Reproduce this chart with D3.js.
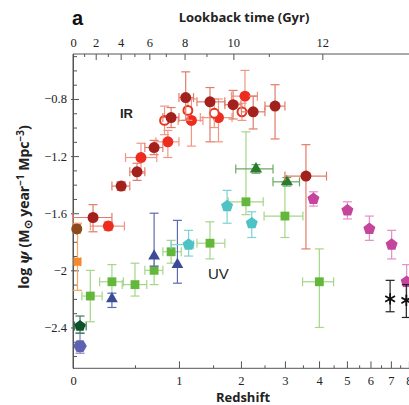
<!DOCTYPE html>
<html lang="en">
<head>
<meta charset="UTF-8">
<title>Cosmic star formation history</title>
<script src="https://cdn.jsdelivr.net/npm/d3@7/dist/d3.min.js"></script>
<style>
    body { margin: 0; background: #fff; }
    svg { display: block; }
</style>
</head>
<body>
<div id="chart"></div>
<script>
// each row: [z, log psi, z low, z high, log psi low, log psi high]
var irDark = [
    [0.14, -1.63, 0.00, 0.29, -1.73, -1.54],
    [0.37, -1.41, 0.29, 0.45, -1.44, -1.38],
    [0.52, -1.31, 0.45, 0.60, -1.37, -1.25],
    [0.70, -1.14, 0.60, 0.80, -1.19, -1.09],
    [0.90, -0.93, 0.80, 1.00, -1.00, -0.86],
    [1.09, -0.79, 1.00, 1.20, -0.95, -0.61],
    [1.45, -0.82, 1.25, 1.70, -1.10, -0.72],
    [1.85, -0.84, 1.70, 2.00, -0.94, -0.74],
    [2.25, -0.89, 2.01, 2.51, -1.01, -0.78],
    [2.75, -0.85, 2.51, 3.00, -1.08, -0.70],
    [3.59, -1.34, 3.00, 4.25, -1.85, -1.12]
];
var irRed = [
    [0.26, -1.69, 0.12, 0.40, -1.72, -1.66],
    [0.56, -1.21, 0.41, 0.73, -1.32, -1.11],
    [0.86, -1.10, 0.72, 1.00, -1.21, -1.02],
    [1.17, -0.95, 0.99, 1.34, -1.13, -0.80],
    [1.59, -0.93, 1.30, 1.83, -1.10, -0.80],
    [2.08, -0.78, 1.82, 2.34, -0.88, -0.60]
];
var irOpen = [
    [0.82, -0.95, 0.82, 0.82, -1.05, -0.85],
    [1.12, -0.88, 1.12, 1.12, -0.95, -0.80],
    [1.52, -0.90, 1.52, 1.52, -1.00, -0.80],
    [2.02, -0.89, 2.02, 2.02, -0.95, -0.83]
];
var irLocalBrown = [[0.025, -1.71, 0.025, 0.025, -1.74, -1.68]];
var irLocalOrange = [[0.03, -1.94, 0.01, 0.05, -2.14, -1.67]];

var uvLocalGreen = [[0.047, -2.39, 0.01, 0.09, -2.44, -2.32]];
var uvLocalBlue = [[0.047, -2.53, 0.047, 0.047, -2.58, -2.44]];
var uvSquares = [
    [0.12, -2.18, 0.06, 0.21, -2.36, -2.00],
    [0.29, -2.08, 0.19, 0.39, -2.21, -1.96],
    [0.50, -2.10, 0.38, 0.62, -2.18, -1.95],
    [0.70, -2.00, 0.60, 0.80, -2.10, -1.91],
    [0.90, -1.87, 0.80, 1.03, -1.95, -1.79],
    [1.45, -1.81, 1.25, 1.70, -1.92, -1.66],
    [2.10, -1.52, 1.76, 2.47, -1.61, -1.03],
    [3.00, -1.62, 2.49, 3.50, -1.77, -1.38],
    [4.01, -2.08, 3.49, 4.50, -2.40, -1.85]
];
var uvTriangles = [
    [2.31, -1.29, 1.90, 2.70, -1.32, -1.26],
    [3.05, -1.38, 2.70, 3.40, -1.41, -1.35]
];
var uvCyan = [
    [1.13, -1.82, 0.90, 1.20, -1.90, -1.72],
    [1.74, -1.55, 1.74, 1.74, -1.67, -1.44],
    [2.22, -1.67, 2.22, 2.22, -1.77, -1.59]
];
var uvBlueTri = [
    [0.29, -2.20, 0.29, 0.29, -2.26, -2.16],
    [0.70, -1.90, 0.70, 0.70, -1.97, -1.60],
    [0.98, -1.96, 0.98, 0.98, -2.09, -1.65]
];
var uvMagenta = [
    [3.82, -1.50, 3.82, 3.82, -1.55, -1.45],
    [5.02, -1.58, 5.02, 5.02, -1.64, -1.52],
    [5.95, -1.71, 5.95, 5.95, -1.79, -1.62],
    [7.04, -1.82, 7.04, 7.04, -1.92, -1.72],
    [7.87, -2.08, 7.87, 7.87, -2.20, -1.96]
];
var uvStars = [
    [6.96, -2.20, 6.96, 6.96, -2.29, -2.07],
    [7.85, -2.21, 7.85, 7.85, -2.33, -2.10]
];

var zTicks = [0, 1, 2, 3, 4, 5, 6, 7, 8];
var zMinorTicks = [0.5, 1.5, 2.5, 3.5, 4.5, 5.5, 6.5, 7.5];
var yTicks = [-0.8, -1.2, -1.6, -2, -2.4];
var gyrTicks = [0, 2, 4, 6, 8, 10, 12];
var gyrMinorTicks = [1, 3, 5, 7, 9, 11];

var width = 409, height = 405;
var axisColor = "#555";

// x axis is log(1+z)
var x = d3.scaleLog().domain([1, 10]).range([73, 425]);
var y = d3.scaleLinear().domain([-2.686, -0.485]).range([368.3, 54]);
function xz(z) { return x(1 + z); }

// lookback time (Gyr) for H0=70, Om=0.3, OL=0.7
function lookback(z) {
    var n = 200, h = z / n, s = 0;
    for (var i = 0; i <= n; i++) {
        var zz = i * h;
        var f = 1 / ((1 + zz) * Math.sqrt(0.3 * Math.pow(1 + zz, 3) + 0.7));
        s += f * (i === 0 || i === n ? 1 : (i % 2 ? 4 : 2));
    }
    return 13.97 * s * h / 3;
}
function zOfLookback(t) {
    var lo = 0, hi = 30;
    for (var k = 0; k < 60; k++) {
        var mid = (lo + hi) / 2;
        if (lookback(mid) < t) lo = mid; else hi = mid;
    }
    return (lo + hi) / 2;
}

var svg = d3.select("#chart")
        .append("svg")
        .attr("width", width)
        .attr("height", height)
        .style("font-family", "'Liberation Serif', serif");

// left axis
var yMinor = d3.range(-2.6, -0.45, 0.1).map(function (v) { return Math.round(v * 10) / 10; })
        .filter(function (v) { return yTicks.indexOf(v) < 0; });

svg.append("g")
        .attr("transform", "translate(73,0)")
        .call(d3.axisLeft(y).tickValues(yMinor).tickSize(-4).tickSizeOuter(0).tickFormat(""))
        .call(function (g) { g.select(".domain").remove(); });

var yAxis = svg.append("g")
        .attr("transform", "translate(73,0)")
        .call(d3.axisLeft(y).tickValues(yTicks).tickSize(-6).tickSizeOuter(0).tickPadding(6)
                .tickFormat(function (d) { return String(d).replace("-", "\u2212"); }));
yAxis.selectAll(".tick line").attr("x1", -2);
yAxis.selectAll(".tick text").style("font-size", "12.5px").attr("fill", "#222")
        .style("font-family", "'Liberation Serif', serif");

// bottom axis
svg.append("g")
        .attr("transform", "translate(0,368.3)")
        .call(d3.axisBottom(x).tickValues(zMinorTicks.map(function (z) { return 1 + z; }))
                .tickSize(-3).tickSizeOuter(0).tickFormat(""))
        .call(function (g) { g.select(".domain").remove(); });

var xAxis = svg.append("g")
        .attr("transform", "translate(0,368.3)")
        .call(d3.axisBottom(x).tickValues(zTicks.map(function (z) { return 1 + z; }))
                .tickSize(-7).tickSizeOuter(0).tickPadding(8)
                .tickFormat(function (d) { return Math.round(d - 1); }));
xAxis.selectAll(".tick text").style("font-size", "12.5px").attr("fill", "#222")
        .style("font-family", "'Liberation Serif', serif");
xAxis.select(".domain").attr("d", "M73,0H409");

// top axis: lookback time
svg.append("g")
        .attr("transform", "translate(0,54)")
        .call(d3.axisTop(x).tickValues(gyrMinorTicks.map(function (t) { return 1 + zOfLookback(t); }))
                .tickSize(-3).tickSizeOuter(0).tickFormat(""))
        .call(function (g) { g.select(".domain").remove(); });

var topAxis = svg.append("g")
        .attr("transform", "translate(0,54)")
        .call(d3.axisTop(x).tickValues(gyrTicks.map(function (t) { return 1 + zOfLookback(t); }))
                .tickSize(-6).tickSizeOuter(0).tickPadding(7)
                .tickFormat(function (d, i) { return gyrTicks[i]; }));
topAxis.selectAll(".tick text").style("font-size", "12.5px").attr("fill", "#222")
        .style("font-family", "'Liberation Serif', serif");
topAxis.select(".domain").attr("d", "M73,0H409");

svg.append("line")
        .attr("x1", 73).attr("x2", 73)
        .attr("y1", 54).attr("y2", 368.3);

svg.selectAll(".domain, .tick line, line")
        .attr("stroke", axisColor)
        .attr("stroke-width", 1);

// custom polygon symbols
function polygon(n, rot) {
    return {
        draw: function (ctx, size) {
            var r = Math.sqrt(size / (0.5 * n * Math.sin(2 * Math.PI / n)));
            for (var i = 0; i < n; i++) {
                var a = rot + 2 * Math.PI * i / n;
                var px = r * Math.sin(a), py = -r * Math.cos(a);
                if (i === 0) ctx.moveTo(px, py); else ctx.lineTo(px, py);
            }
            ctx.closePath();
        }
    };
}
var pentagon = polygon(5, 0);
var hexagon = polygon(6, Math.PI / 6);

function drawSeries(rows, opt) {
    var g = svg.append("g");
    var cap = opt.cap || 4.5;
    rows.forEach(function (r) {
        var cx = xz(r[0]), cy = y(r[1]);
        var e = g.append("g")
                .attr("stroke", opt.err)
                .attr("stroke-width", 1.2)
                .attr("fill", "none");
        if (r[2] !== r[3]) {
            var x0 = xz(r[2]), x1 = xz(r[3]);
            e.append("line").attr("x1", x0).attr("x2", x1).attr("y1", cy).attr("y2", cy);
            e.append("line").attr("x1", x0).attr("x2", x0).attr("y1", cy - cap).attr("y2", cy + cap);
            e.append("line").attr("x1", x1).attr("x2", x1).attr("y1", cy - cap).attr("y2", cy + cap);
        }
        if (r[4] !== r[5]) {
            var y0 = y(r[4]), y1 = y(r[5]);
            e.append("line").attr("x1", cx).attr("x2", cx).attr("y1", y0).attr("y2", y1);
            e.append("line").attr("x1", cx - cap).attr("x2", cx + cap).attr("y1", y0).attr("y2", y0);
            e.append("line").attr("x1", cx - cap).attr("x2", cx + cap).attr("y1", y1).attr("y2", y1);
        }
    });
    g.selectAll("path.mark")
            .data(rows)
            .enter()
            .append("path")
            .attr("class", "mark")
            .attr("d", d3.symbol().type(opt.type).size(opt.size))
            .attr("transform", function (d) { return "translate(" + xz(d[0]) + "," + y(d[1]) + ")"; })
            .attr("fill", opt.fill)
            .attr("stroke", opt.stroke || "none")
            .attr("stroke-width", opt.strokeWidth || 0);
}

// UV
drawSeries(uvLocalBlue, {type: hexagon, size: 120, fill: "#5f62b2", err: "#7b80c6"});
drawSeries(uvLocalGreen, {type: pentagon, size: 85, fill: "#0e4f2c", err: "#3e7d52"});
drawSeries(uvSquares, {type: d3.symbolSquare, size: 78, fill: "#63b83b", err: "#a5d689"});
drawSeries(uvBlueTri, {type: d3.symbolTriangle, size: 60, fill: "#3b4b98", err: "#5b69b4"});
drawSeries(uvCyan, {type: pentagon, size: 95, fill: "#4ec2c4", err: "#7ed2d3"});
drawSeries(uvTriangles, {type: d3.symbolTriangle, size: 65, fill: "#2a7b30", err: "#6ba962"});
drawSeries(uvMagenta, {type: pentagon, size: 95, fill: "#c5459d", err: "#e290c7"});
drawSeries(uvStars, {type: d3.symbolAsterisk, size: 90, fill: "none", stroke: "#111", strokeWidth: 1.8, err: "#222"});

// IR
drawSeries(irLocalOrange, {type: d3.symbolSquare, size: 64, fill: "#f58a2c", err: "#f6a563"});
drawSeries(irLocalBrown, {type: d3.symbolCircle, size: 95, fill: "#8d4a1d", err: "#c68a5e"});
drawSeries(irRed, {type: d3.symbolCircle, size: 95, fill: "#ee2b1f", err: "#f29684"});
drawSeries(irOpen, {type: d3.symbolCircle, size: 62, fill: "#fff", stroke: "#e8341f", strokeWidth: 2, err: "#f29684"});
drawSeries(irDark, {type: d3.symbolCircle, size: 95, fill: "#a3211c", err: "#e17c6b"});

// labels
svg.append("text")
        .attr("x", 120).attr("y", 118)
        .style("font-family", "'Liberation Sans', Arial, sans-serif")
        .style("font-weight", "bold").style("font-size", "13px")
        .attr("fill", "#222")
        .text("IR");
svg.append("text")
        .attr("x", 208).attr("y", 279)
        .style("font-family", "'Liberation Sans', Arial, sans-serif")
        .style("font-size", "15px")
        .attr("fill", "#222")
        .text("UV");

svg.append("text")
        .attr("x", 72).attr("y", 25)
        .style("font-family", "'Liberation Sans', Arial, sans-serif")
        .style("font-weight", "bold").style("font-size", "20px")
        .attr("fill", "#111")
        .text("a");

svg.append("text")
        .attr("x", 244).attr("y", 22)
        .attr("text-anchor", "middle")
        .style("font-family", "'Open Sans', sans-serif")
        .style("font-weight", "bold").style("font-size", "13px")
        .attr("fill", "#222")
        .text("Lookback time (Gyr)");

svg.append("text")
        .attr("x", 243).attr("y", 402)
        .attr("text-anchor", "middle")
        .style("font-family", "'Open Sans', sans-serif")
        .style("font-weight", "bold").style("font-size", "13px")
        .attr("fill", "#222")
        .text("Redshift");

var yLabel = svg.append("text")
        .attr("transform", "translate(29,207) rotate(-90)")
        .attr("text-anchor", "middle")
        .style("font-family", "'Open Sans', sans-serif")
        .style("font-weight", "bold").style("font-size", "14px")
        .attr("fill", "#222");
yLabel.append("tspan").text("log ");
yLabel.append("tspan").style("font-style", "italic").style("font-family", "'DejaVu Serif', serif").text("\u03c8");
yLabel.append("tspan").text(" (M");
yLabel.append("tspan").attr("dy", 3).style("font-size", "11px").text("\u2299");
yLabel.append("tspan").attr("dy", -3).text(" year");
yLabel.append("tspan").attr("dy", -5).style("font-size", "10px").text("\u22121");
yLabel.append("tspan").attr("dy", 5).text(" Mpc");
yLabel.append("tspan").attr("dy", -5).style("font-size", "10px").text("\u22123");
yLabel.append("tspan").attr("dy", 5).text(")");
</script>
</body>
</html>
